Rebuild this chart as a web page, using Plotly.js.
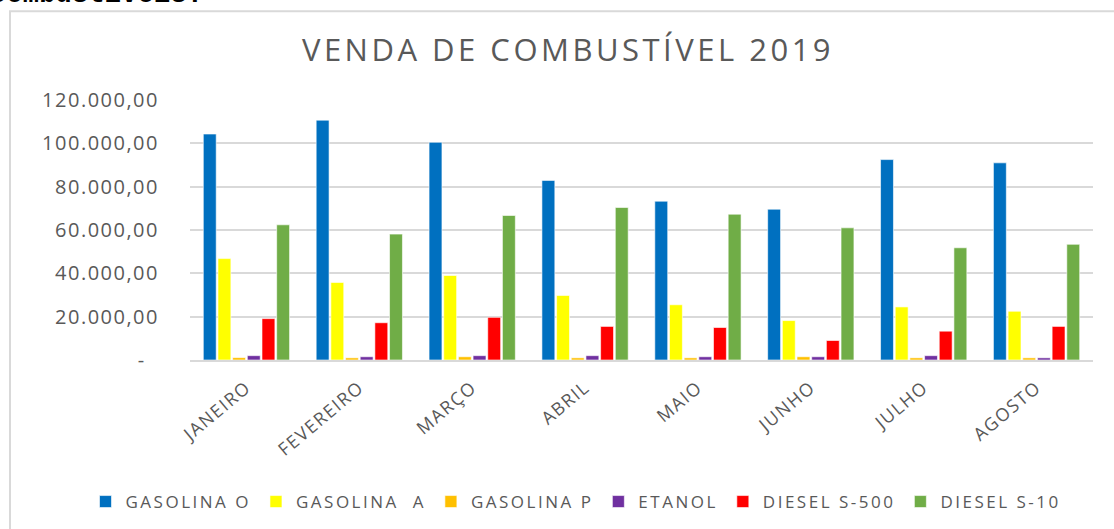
<!DOCTYPE html>
<html>
<head>
<meta charset="utf-8">
<script src="https://cdn.plot.ly/plotly-3.0.1.min.js"></script>
<style>
html,body{margin:0;padding:0;background:#fff;}
#chart{width:1114px;height:529px;}
text{letter-spacing:1.5px;}
text.gtitle{letter-spacing:3.5px;}
text.legendtext{letter-spacing:2.5px;}
text.annotation-text{letter-spacing:0.2px;}
</style>
</head>
<body>
<div id="chart"></div>
<script>
const months = ["JANEIRO","FEVEREIRO","MARÇO","ABRIL","MAIO","JUNHO","JULHO","AGOSTO"];
const seriesNames = ["GASOLINA O","GASOLINA\u00a0 A","GASOLINA P","ETANOL","DIESEL S-500","DIESEL S-10"];
const gasolinaO = [104300,110700,100500,82900,73300,69600,92500,91000];
const gasolinaA = [46800,35800,39000,29800,25500,18200,24500,22500];
const gasolinaP = [1100,1000,1500,1000,1000,1500,1000,1000];
const etanol = [2000,1500,2000,2000,1500,1500,2000,1000];
const dieselS500 = [19100,17200,19700,15500,15000,9000,13300,15500];
const dieselS10 = [62400,58100,66700,70400,67300,61000,51800,53400];
const colors = ["#0070C0","#FFFF00","#FFC000","#7030A0","#FF0000","#70AD47"];
const tickVals = [0,20000,40000,60000,80000,100000,120000];
const tickText = ["-\u00a0\u00a0","20.000,00","40.000,00","60.000,00","80.000,00","100.000,00","120.000,00"];

const allSeries = [gasolinaO,gasolinaA,gasolinaP,etanol,dieselS500,dieselS10];
const traces = allSeries.map((vals,i)=>({
  type:"bar", name:seriesNames[i], x:months, y:vals,
  marker:{color:colors[i], line:{color:"rgba(255,255,255,0.6)", width:1}},
  hoverinfo:"x+y"
}));

const gray = "#595959";
const W = 1114, H = 529;
const ML = 10, MR = 10, T = 100, B = 361;
const pw = W-ML-MR, ph = B-T;
const AX0 = 190, AX1 = 1093;
const px = v => (v-ML)/pw;
const py = v => (B-v)/ph;

const layout = {
  width:W, height:H,
  margin:{l:ML, r:MR, t:T, b:H-B, pad:0},
  paper_bgcolor:"#fff", plot_bgcolor:"#fff",
  font:{family:"Open Sans, sans-serif", color:gray},
  title:{text:"VENDA DE COMBUSTÍVEL 2019", font:{size:31, color:gray, family:"Open Sans, sans-serif"},
         x:568/W, xref:"container", xanchor:"center", y:1-50/H, yref:"container", yanchor:"middle"},
  barmode:"group", bargap:0.22, bargroupgap:0.12,
  showlegend:true,
  legend:{orientation:"h", xref:"paper", yref:"paper", x:px(576), xanchor:"center",
          y:py(502), yanchor:"middle", font:{size:17, color:gray}, itemwidth:30, tracegroupgap:0,
          traceorder:"normal"},
  xaxis:{domain:[px(AX0), px(AX1)], tickangle:-40, tickfont:{size:18, color:gray}, showline:true,
         linecolor:"#d9d9d9", linewidth:2, ticks:"", showgrid:false, fixedrange:true, ticklabelstandoff:8},
  yaxis:{range:[0,120000], tickvals:tickVals, ticktext:tickText, tickfont:{size:20, color:gray},
         showgrid:true, gridcolor:"#d9d9d9", gridwidth:2, zeroline:false, showline:false,
         ticks:"", ticklabelstandoff:30, fixedrange:true},
  shapes:[
    {type:"rect", xref:"paper", yref:"paper", x0:px(10), x1:px(1130), y0:py(560), y1:py(11),
     line:{color:"#d9d9d9", width:2}, fillcolor:"rgba(0,0,0,0)", layer:"below"}
  ],
  annotations:[
    {text:"<b>combustíveis.</b>", xref:"paper", yref:"paper", x:px(-11), y:py(11), xanchor:"left", yanchor:"bottom",
     showarrow:false, borderpad:0, font:{family:"Liberation Mono, monospace", size:27, color:"#000"}}
  ]
};

Plotly.newPlot("chart", traces, layout, {displayModeBar:false, staticPlot:true});
</script>
</body>
</html>
